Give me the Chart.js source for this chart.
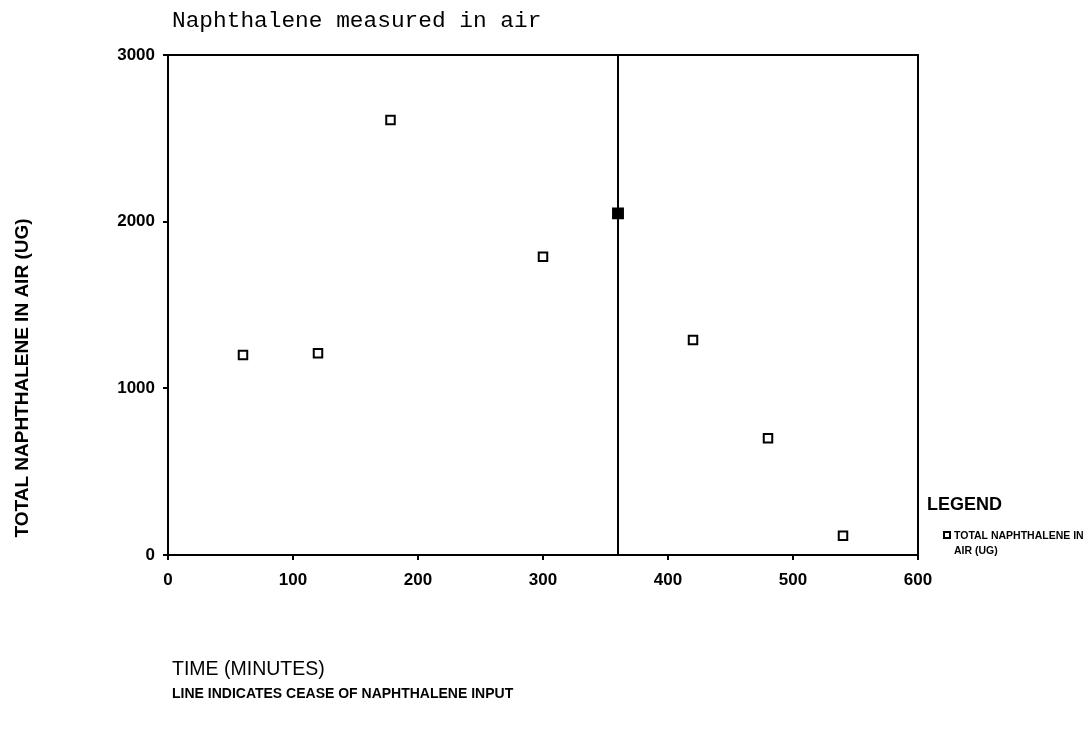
<!DOCTYPE html>
<html>
<head>
<meta charset="utf-8">
<script src="https://cdn.jsdelivr.net/npm/chart.js@4"></script>
<style>
  html, body { margin: 0; padding: 0; background: #fff; }
  #wrap { width: 1089px; height: 731px; }
</style>
</head>
<body>
<div id="wrap"><canvas id="c" width="1089" height="731"></canvas></div>
<script>
// ---- data ----
const timeMinutes = [60, 120, 178, 300, 360, 420, 480, 540];
const naphthaleneUg = [1200, 1210, 2610, 1790, 2050, 1290, 700, 115];
const ceaseTime = 360;
const xTicks = [0, 100, 200, 300, 400, 500, 600];
const yTicks = [0, 1000, 2000, 3000];

const chartTitle = 'Naphthalene measured in air';
const yTitle = 'TOTAL NAPHTHALENE IN AIR (UG)';
const xTitle = 'TIME (MINUTES)';
const footnote = 'LINE INDICATES CEASE OF NAPHTHALENE INPUT';
const legendTitle = 'LEGEND';
const legendLines = ['TOTAL NAPHTHALENE IN', 'AIR (UG)'];

const points = timeMinutes.map((t, i) => ({ x: t, y: naphthaleneUg[i] }));
const ceaseLine = [{ x: ceaseTime, y: yTicks[0] }, { x: ceaseTime, y: yTicks[yTicks.length - 1] }];

const textPlugin = {
  id: 'texts',
  beforeDatasetsDraw(chart) {
    const { ctx, chartArea: a } = chart;
    ctx.save();
    ctx.strokeStyle = '#000';
    ctx.lineWidth = 2;
    ctx.strokeRect(a.left, a.top, a.right - a.left, a.bottom - a.top);
    ctx.restore();
  },
  afterDraw(chart) {
    const { ctx } = chart;
    ctx.save();
    ctx.fillStyle = '#000';
    ctx.textBaseline = 'alphabetic';
    // title
    ctx.font = '22.8px "Liberation Mono", monospace';
    ctx.textAlign = 'left';
    ctx.fillText(chartTitle, 172, 27);
    // y title
    ctx.save();
    ctx.translate(23, 378);
    ctx.rotate(-Math.PI / 2);
    ctx.textAlign = 'center';
    ctx.textBaseline = 'middle';
    ctx.font = 'bold 19px "Liberation Sans", Arial, sans-serif';
    ctx.fillText(yTitle, 0, 0);
    ctx.restore();
    // x title
    ctx.textAlign = 'left';
    ctx.font = '19.5px "Liberation Sans", Arial, sans-serif';
    ctx.fillText(xTitle, 172, 675);
    // footnote
    ctx.font = 'bold 14px "Liberation Sans", Arial, sans-serif';
    ctx.fillText(footnote, 172, 698);
    // legend
    ctx.font = 'bold 18px "Liberation Sans", Arial, sans-serif';
    ctx.fillText(legendTitle, 927, 510);
    ctx.strokeStyle = '#000';
    ctx.lineWidth = 2;
    ctx.strokeRect(944, 532, 6, 6);
    ctx.font = 'bold 10.5px "Liberation Sans", Arial, sans-serif';
    ctx.fillText(legendLines[0], 954, 539);
    ctx.fillText(legendLines[1], 954, 554);
    ctx.restore();
  }
};

new Chart(document.getElementById('c'), {
  type: 'scatter',
  data: {
    datasets: [
      {
        label: 'Cease of naphthalene input',
        data: ceaseLine,
        showLine: true,
        borderColor: '#000',
        borderWidth: 2,
        pointRadius: 0,
        fill: false
      },
      {
        label: 'TOTAL NAPHTHALENE IN AIR (UG)',
        data: points,
        pointStyle: 'rect',
        pointRadius: ctx => (ctx.raw && ctx.raw.x === ceaseTime ? 7 : 6),
        pointBorderWidth: 2,
        pointBorderColor: '#000',
        pointBackgroundColor: ctx => (ctx.raw && ctx.raw.x === ceaseTime ? '#000' : '#fff'),
        showLine: false
      }
    ]
  },
  options: {
    responsive: false,
    animation: false,
    devicePixelRatio: 1,
    layout: { padding: { top: 55, right: 171, left: 0, bottom: 0 } },
    plugins: {
      legend: { display: false },
      tooltip: { enabled: false },
      title: { display: false }
    },
    scales: {
      x: {
        type: 'linear',
        min: xTicks[0],
        max: xTicks[xTicks.length - 1],
        afterBuildTicks: s => { s.ticks = xTicks.map(v => ({ value: v })); },
        afterFit: s => { s.height = 176; },
        grid: { drawOnChartArea: false, drawTicks: true, tickLength: 5, color: '#000', lineWidth: 2 },
        border: { display: true, color: '#000', width: 2 },
        ticks: {
          color: '#000',
          padding: 10,
          maxRotation: 0,
          callback: v => String(v),
          font: { family: '"Liberation Sans", Arial, sans-serif', size: 17, weight: 'bold' }
        }
      },
      y: {
        type: 'linear',
        min: yTicks[0],
        max: yTicks[yTicks.length - 1],
        afterBuildTicks: s => { s.ticks = yTicks.map(v => ({ value: v })); },
        afterFit: s => { s.width = 168; },
        grid: { drawOnChartArea: false, drawTicks: true, tickLength: 5, color: '#000', lineWidth: 2 },
        border: { display: true, color: '#000', width: 2 },
        ticks: {
          color: '#000',
          padding: 8,
          callback: v => String(v),
          font: { family: '"Liberation Sans", Arial, sans-serif', size: 17, weight: 'bold' }
        }
      }
    }
  },
  plugins: [textPlugin]
});
</script>
</body>
</html>
